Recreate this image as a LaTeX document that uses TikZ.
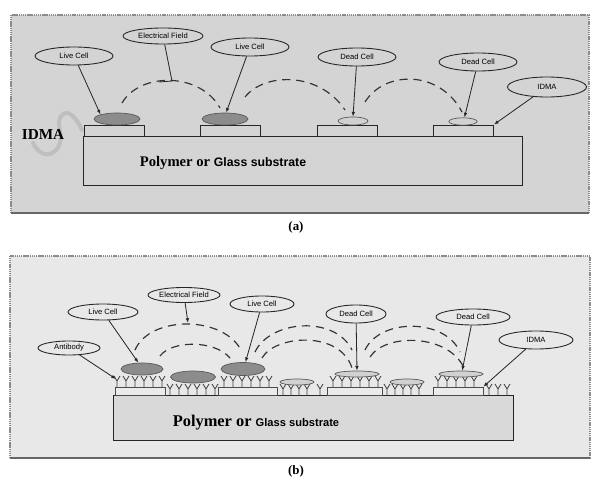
\documentclass[tikz,border=0pt]{standalone}
\usepackage{fontspec}
\setmainfont{Liberation Serif}
\setsansfont{Liberation Sans}
\usetikzlibrary{shapes.geometric,arrows.meta}
\definecolor{bgA}{gray}{0.83}
\definecolor{bgB}{gray}{0.91}
\definecolor{subB}{gray}{0.85}
\definecolor{livecell}{gray}{0.55}
\definecolor{deadcell}{gray}{0.70}
\begin{document}
\begin{tikzpicture}[x=0.03cm,y=-0.03cm,
  frame/.style={fill=#1, draw=black!45, line width=1.4pt, dash pattern=on 1pt off 0.6pt},
  framebase/.style={draw=black!60, line width=1.8pt},
  tag/.style={ellipse, draw=black!85, line width=0.75pt, inner sep=0pt,
    font=\sffamily\fontsize{6.5}{7.5}\selectfont},
  live/.style={ellipse, draw=black!65, line width=0.6pt, fill=livecell, inner sep=0pt},
  dead/.style={ellipse, draw=black!65, line width=0.6pt, fill=deadcell!60, inner sep=0pt},
  pad/.style={rectangle, draw=black!85, line width=0.8pt, inner sep=0pt},
  padB/.style={rectangle, draw=black!70, line width=0.6pt, fill=black!8, inner sep=0pt},
  conn/.style={draw=black!85, line width=0.7pt, -{Latex[length=4pt,width=3pt]}},
  field/.style={draw=black!80, line width=1pt, dash pattern=on 7pt off 5pt},
  caption/.style={font=\bfseries\fontsize{11}{13}\selectfont},
  ab/.pic={\draw[black!75, line width=0.7pt] (0,0) -- (0,-6) (-3,-11) -- (0,-6) -- (3,-11);}
]
\useasboundingbox (0,0) rectangle (594,481);

% ================= panel (a) =================
\draw[frame=bgA] (11,15) rectangle (589,213);
\draw[framebase] (11,213) -- (589,213);

% substrate and electrodes
\draw[black!85, line width=0.8pt, fill=bgA] (83,136) rectangle (522,185);
\node[pad, minimum width=1.8cm, minimum height=0.33cm] (pA1) at (114,130.5) {};
\node[pad, minimum width=1.8cm, minimum height=0.33cm] (pA2) at (230.5,130.5) {};
\node[pad, minimum width=1.8cm, minimum height=0.33cm] (pA3) at (347,130.5) {};
\node[pad, minimum width=1.8cm, minimum height=0.33cm] (pA4) at (463.5,130.5) {};
\node (subA) at (223,163) {\bfseries\fontsize{12.5}{14}\selectfont Polymer or \sffamily\fontsize{10.5}{12}\selectfont Glass substrate};

% IDMA mark on the left with its wavy trace
\draw[black!28, line width=3.5pt, opacity=0.75, line cap=round]
  (33,143) .. controls (40,158) and (55,158) .. (60,143)
  .. controls (63,132) and (55,122) .. (62,115)
  .. controls (68,109) and (76,117) .. (82,130);
\node[font=\bfseries\fontsize{13}{15}\selectfont] (idmaA) at (43,134) {IDMA};

% cells
\node[live, minimum width=1.38cm, minimum height=0.36cm] (cA1) at (117,119) {};
\node[live, minimum width=1.38cm, minimum height=0.36cm] (cA2) at (225,119) {};
\node[dead, minimum width=0.9cm, minimum height=0.24cm] (dA1) at (353,121) {};
\node[dead, minimum width=0.85cm, minimum height=0.22cm] (dA2) at (463,121.5) {};

% field lines
\draw[field] (122,103) .. controls (140,72) and (200,72) .. (220,108);
\draw[field] (245,97) .. controls (265,72) and (320,72) .. (345,110);
\draw[field] (365,102) .. controls (385,70) and (440,70) .. (462,112);

% labels
\node[tag, minimum width=2.34cm, minimum height=0.54cm] (lcA1) at (74,56) {Live Cell};
\node[tag, minimum width=2.4cm, minimum height=0.48cm] (efA) at (163,36) {Electrical Field};
\node[tag, minimum width=2.34cm, minimum height=0.54cm] (lcA2) at (250,47) {Live Cell};
\node[tag, minimum width=2.34cm, minimum height=0.54cm] (dcA1) at (357,57) {Dead Cell};
\node[tag, minimum width=2.34cm, minimum height=0.54cm] (dcA2) at (478,62) {Dead Cell};
\node[tag, minimum width=2.37cm, minimum height=0.6cm] (imA) at (547,87) {IDMA};

\coordinate (efAend) at (172,81);
\coordinate (efAbar) at (159,82);
\draw[conn] (lcA1) -- (cA1.north west);
\draw[black!85, line width=0.7pt] (efA) -- (efAend) -- (efAbar);
\draw[conn] (lcA2) -- (cA2.80);
\draw[conn] (dcA1) -- (dA1.north);
\draw[conn] (dcA2) -- (dA2.70);
\draw[conn] (imA) -- (pA4.north east);

\node[caption] (capA) at (296,227) {(a)};

% ================= panel (b) =================
\draw[frame=bgB] (10,256) rectangle (590,458);
\draw[framebase] (10,458) -- (590,458);

% substrate and electrodes
\draw[black!85, line width=0.8pt, fill=subB] (113,395) rectangle (513,440);
\node[padB, minimum width=1.5cm, minimum height=0.24cm] (pB1) at (140,391) {};
\node[padB, minimum width=1.77cm, minimum height=0.24cm] (pB2) at (247.5,391) {};
\node[padB, minimum width=1.65cm, minimum height=0.24cm] (pB3) at (354.5,391) {};
\node[padB, minimum width=1.5cm, minimum height=0.24cm] (pB4) at (458,391) {};
\node (subB) at (256,423) {\bfseries\fontsize{14}{16}\selectfont Polymer or \sffamily\fontsize{9.5}{11}\selectfont Glass substrate};

% antibodies standing on the electrodes
\foreach \x in {117,126,135,144,153,162, 224,233,242,251,260,269,
                333,342,351,360,369,378, 438,447,456,465,474}
  \pic at (\x,387) {ab};
% antibodies standing on the bare substrate
\foreach \x in {170,179,188,197,206,215, 283,291,299,307,320,
                387,395,403,411,419, 489,498,507}
  \pic at (\x,395) {ab};

% cells
\node[live, minimum width=1.26cm, minimum height=0.36cm] (cB1) at (142,369) {};
\node[live, minimum width=1.35cm, minimum height=0.36cm] (cB2) at (193,377) {};
\node[live, minimum width=1.32cm, minimum height=0.39cm] (cB3) at (243,369) {};
\node[dead, minimum width=1.02cm, minimum height=0.18cm] (dB1) at (297,382) {};
\node[dead, minimum width=1.32cm, minimum height=0.18cm] (dB2) at (357,374) {};
\node[dead, minimum width=1.02cm, minimum height=0.18cm] (dB3) at (407,382) {};
\node[dead, minimum width=1.32cm, minimum height=0.18cm] (dB4) at (461,374) {};

% field lines, two per cell pair
\draw[field] (135,350) .. controls (150,315) and (225,315) .. (242,352);
\draw[field] (160,356) .. controls (172,340) and (215,340) .. (230,358);
\draw[field] (255,352) .. controls (270,320) and (335,315) .. (352,350);
\draw[field] (262,358) .. controls (275,335) and (340,330) .. (352,368);
\draw[field] (365,350) .. controls (380,318) and (445,318) .. (460,352);
\draw[field] (370,357) .. controls (385,333) and (450,333) .. (465,370);

% labels
\node[tag, minimum width=1.86cm, minimum height=0.42cm] (abB) at (69,348) {Antibody};
\node[tag, minimum width=2.1cm, minimum height=0.48cm] (lcB1) at (103,312) {Live Cell};
\node[tag, minimum width=2.16cm, minimum height=0.45cm] (efB) at (184,295) {Electrical Field};
\node[tag, minimum width=1.92cm, minimum height=0.48cm] (lcB2) at (262,304) {Live Cell};
\node[tag, minimum width=1.8cm, minimum height=0.54cm] (dcB1) at (356,314) {Dead Cell};
\node[tag, minimum width=2.22cm, minimum height=0.48cm] (dcB2) at (473,317) {Dead Cell};
\node[tag, minimum width=2.22cm, minimum height=0.54cm] (imB) at (536,340) {IDMA};

\coordinate (abtip) at (116,379);
\coordinate (efBend) at (188,323);
\draw[conn] (abB) -- (abtip);
\draw[conn] (lcB1) -- (cB1.120);
\draw[conn] (efB) -- (efBend);
\draw[conn] (lcB2) -- (cB3.70);
\draw[conn] (dcB1) -- (dB2.north);
\draw[conn] (dcB2) -- (dB4.70);
\draw[conn] (imB) -- (pB4.north east);

\node[caption] (capB) at (296,471) {(b)};
\end{tikzpicture}
\end{document}
